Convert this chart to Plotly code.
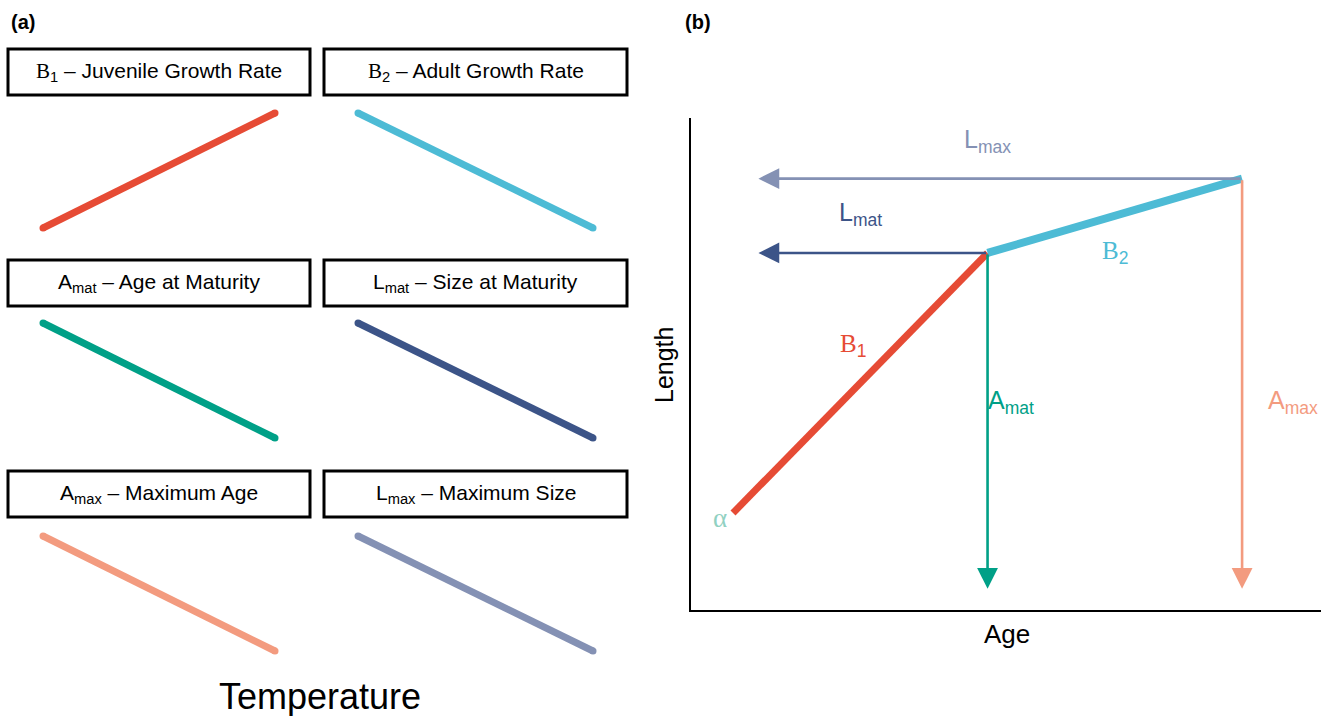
import plotly.graph_objects as go

W, H = 1321, 716

# ---------------- data ----------------
# (a) responses to temperature (conceptual: low -> high)
temperature = [0, 1]
juvenile_growth = [0, 1]
adult_growth = [1, 0]
age_maturity = [1, 0]
size_maturity = [1, 0]
max_age = [1, 0]
max_size = [1, 0]

SERIF = "Liberation Serif, Times New Roman, serif"
SANS = "Liberation Sans, Arial, Helvetica, sans-serif"

panel_titles = [
    f"<span style='font-family:{SERIF}'>B</span><sub>1</sub> – Juvenile Growth Rate",
    f"<span style='font-family:{SERIF}'>B</span><sub>2</sub> – Adult Growth Rate",
    "A<sub>mat</sub> – Age at Maturity",
    "L<sub>mat</sub> – Size at Maturity",
    "A<sub>max</sub> – Maximum Age",
    "L<sub>max</sub> – Maximum Size",
]
panel_values = [juvenile_growth, adult_growth, age_maturity, size_maturity, max_age, max_size]
panel_colors = ["#E64B35", "#4DBBD5", "#00A087", "#3C5488", "#F39B7F", "#8491B4"]

# (b) biphasic growth: alpha, A_mat/L_mat, A_max/L_max
stage_age = [0, 1, 2]
stage_length = [10, 45, 55]
arrow_end_age = 0.1
arrow_end_length = -0.2

# ---------------- layout helpers ----------------
def px(x):
    return x / W

def py(y):
    return 1 - y / H

fig = go.Figure()
layout = dict(
    width=W, height=H,
    margin=dict(l=0, r=0, t=0, b=0),
    paper_bgcolor="white", plot_bgcolor="rgba(0,0,0,0)",
    showlegend=False,
    font=dict(family=SANS, color="black"),
)

shapes = []
annotations = []

# ---------------- panel (a) ----------------
cols_px = [(43, 275), (358, 593)]
rows_px = [(113, 228), (323, 438), (536, 651)]
box_cols = [(8, 310), (324, 627)]
box_rows = [(49, 95), (260, 306), (471, 517)]
pad = 0.06

for i, (title, vals, color) in enumerate(zip(panel_titles, panel_values, panel_colors)):
    r, c = divmod(i, 2)
    k = i + 2
    x0, x1 = cols_px[c]
    y0, y1 = rows_px[r]
    dx = (x1 - x0) * pad
    dy = (y1 - y0) * pad
    layout[f"xaxis{k}"] = dict(domain=[px(x0 - dx), px(x1 + dx)], range=[-pad, 1 + pad],
                               visible=False, anchor=f"y{k}", fixedrange=True)
    layout[f"yaxis{k}"] = dict(domain=[py(y1 + dy), py(y0 - dy)], range=[-pad, 1 + pad],
                               visible=False, anchor=f"x{k}", fixedrange=True)
    fig.add_trace(go.Scatter(
        x=temperature, y=vals, mode="lines+markers",
        line=dict(color=color, width=7),
        marker=dict(size=7, color=color),
        xaxis=f"x{k}", yaxis=f"y{k}", cliponaxis=False, hoverinfo="skip",
    ))
    bx0, bx1 = box_cols[c]
    by0, by1 = box_rows[r]
    shapes.append(dict(type="rect", xref="paper", yref="paper",
                       x0=px(bx0), x1=px(bx1), y0=py(by1), y1=py(by0),
                       line=dict(color="black", width=3), fillcolor="white", layer="below"))
    annotations.append(dict(text=title, xref="paper", yref="paper",
                            x=px((bx0 + bx1) / 2), y=py((by0 + by1) / 2),
                            xanchor="center", yanchor="middle", showarrow=False,
                            font=dict(size=21, color="black", family=SANS)))

annotations.append(dict(text="Temperature", xref="paper", yref="paper",
                        x=px(320), y=py(696), xanchor="center", yanchor="middle",
                        showarrow=False, font=dict(size=36, color="black")))
annotations.append(dict(text="<b>(a)</b>", xref="paper", yref="paper",
                        x=px(9), y=py(22), xanchor="left", yanchor="middle",
                        showarrow=False, font=dict(size=20, color="black")))
annotations.append(dict(text="<b>(b)</b>", xref="paper", yref="paper",
                        x=px(683), y=py(22), xanchor="left", yanchor="middle",
                        showarrow=False, font=dict(size=20, color="black")))

# ---------------- panel (b) ----------------
layout["xaxis"] = dict(domain=[px(691), 1], range=[-0.165, 2.31], showline=True,
                       linecolor="black", linewidth=2, showgrid=False, zeroline=False,
                       showticklabels=False, ticks="", anchor="y", fixedrange=True)
layout["yaxis"] = dict(domain=[py(610), py(118)], range=[-3.05, 63.16], showline=True,
                       linecolor="black", linewidth=2, showgrid=False, zeroline=False,
                       showticklabels=False, ticks="", anchor="x", fixedrange=True)

# growth segments
fig.add_trace(go.Scatter(x=stage_age[0:2], y=stage_length[0:2], mode="lines",
                         line=dict(color="#E64B35", width=7), hoverinfo="skip",
                         xaxis="x", yaxis="y"))
fig.add_trace(go.Scatter(x=stage_age[1:3], y=stage_length[1:3], mode="lines",
                         line=dict(color="#4DBBD5", width=8), hoverinfo="skip",
                         xaxis="x", yaxis="y"))

def arrow(x_from, y_from, x_to, y_to, color):
    return dict(x=x_to, y=y_to, ax=x_from, ay=y_from, xref="x", yref="y",
                axref="x", ayref="y", text="", showarrow=True, arrowhead=2,
                arrowsize=1.6, arrowwidth=2.6, arrowcolor=color)

annotations += [
    arrow(stage_age[2], stage_length[2], arrow_end_age, stage_length[2], "#8491B4"),
    arrow(stage_age[1], stage_length[1], arrow_end_age, stage_length[1], "#3C5488"),
    arrow(stage_age[1], stage_length[1], stage_age[1], arrow_end_length, "#00A087"),
    arrow(stage_age[2], stage_length[2], stage_age[2], arrow_end_length, "#F39B7F"),
]

def label(text, x, y, color, size=25, family=SANS, xanchor="center"):
    return dict(text=text, x=x, y=y, xref="x", yref="y", showarrow=False,
                xanchor=xanchor, yanchor="middle", font=dict(size=size, color=color, family=family))

annotations += [
    label("L<sub>max</sub>", stage_age[1], stage_length[2] + 5.0, "#8491B4"),
    label("L<sub>mat</sub>", 0.5, stage_length[1] + 5.2, "#3C5488"),
    label(f"<span style='font-family:{SERIF}'>B</span><sub>2</sub>", 1.5, stage_length[1], "#4DBBD5"),
    label(f"<span style='font-family:{SERIF}'>B</span><sub>1</sub>", 0.47, 32.6, "#E64B35"),
    label("A<sub>mat</sub>", stage_age[1] - 0.005, 25, "#00A087", xanchor="left"),
    label("A<sub>max</sub>", stage_age[2] + 0.095, 25, "#F39B7F", xanchor="left"),
    label("α", -0.05, 9.3, "#91D1C2", size=27, family=SERIF),
]

annotations.append(dict(text="Age", xref="paper", yref="paper", x=px(1007), y=py(634),
                        xanchor="center", yanchor="middle", showarrow=False,
                        font=dict(size=26, color="black")))
annotations.append(dict(text="Length", xref="paper", yref="paper", x=px(664), y=py(365),
                        xanchor="center", yanchor="middle", showarrow=False, textangle=-90,
                        font=dict(size=25, color="black")))

layout["shapes"] = shapes
layout["annotations"] = annotations
fig.update_layout(**layout)
fig.write_html("out.html")
